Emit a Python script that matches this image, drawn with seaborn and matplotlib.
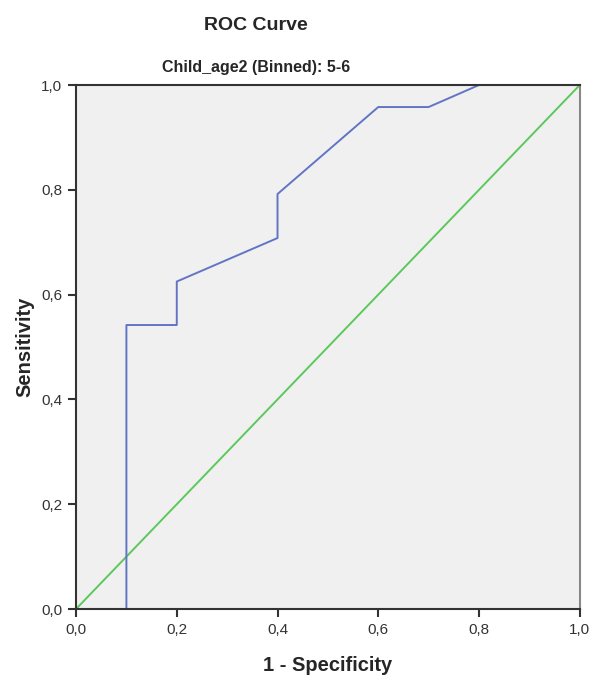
import pandas as pd
import matplotlib
matplotlib.use("Agg")
import matplotlib.pyplot as plt
import seaborn as sns

# ROC points (1 - specificity, sensitivity)
fpr = [0.0, 0.1, 0.1, 0.2, 0.2, 0.4, 0.4, 0.6, 0.7, 0.8, 1.0]
tpr = [0.0, 0.0, 0.542, 0.542, 0.625, 0.708, 0.792, 0.958, 0.958, 1.0, 1.0]
ref_x = [0.0, 1.0]
ref_y = [0.0, 1.0]
ticks = [0.0, 0.2, 0.4, 0.6, 0.8, 1.0]
tick_labels = ["0,0", "0,2", "0,4", "0,6", "0,8", "1,0"]

sns.set_style("white")
plt.rcParams['font.family'] = ['Liberation Sans', 'DejaVu Sans']

fig = plt.figure(figsize=(5.94, 6.77), dpi=100)
ax = fig.add_axes([0.128, 0.1004, 0.848, 0.774])
ax.set_facecolor("#f0f0f0")

roc = pd.DataFrame({"x": fpr, "y": tpr})
diag = pd.DataFrame({"x": ref_x, "y": ref_y})
sns.lineplot(data=diag, x="x", y="y", sort=False, estimator=None,
             color="#5cc85c", linewidth=1.4, ax=ax)
sns.lineplot(data=roc, x="x", y="y", sort=False, estimator=None,
             color="#6275c4", linewidth=1.4, ax=ax)

ax.set_xlim(0, 1)
ax.set_ylim(0, 1)
ax.set_xticks(ticks)
ax.set_xticklabels(tick_labels)
ax.set_yticks(ticks)
ax.set_yticklabels(tick_labels)
ax.tick_params(bottom=True, left=True, direction="out", length=6, width=1.5,
               color="#333333", labelsize=11, labelcolor="#333333", pad=4)

for side in ["left", "bottom", "top"]:
    ax.spines[side].set_color("#333333")
    ax.spines[side].set_linewidth(1.5)
ax.spines["right"].set_color("#888888")
ax.spines["right"].set_linewidth(1.5)

ax.set_xlabel("1 - Specificity", fontsize=14.5, fontweight="bold", labelpad=14)
ax.set_ylabel("Sensitivity", fontsize=14.5, fontweight="bold", labelpad=5)

fig.text(0.431, 0.963, "ROC Curve", ha="center", va="center", fontsize=14,
         fontweight="bold")
fig.text(0.431, 0.9, "Child_age2 (Binned): 5-6", ha="center", va="center",
         fontsize=11.5, fontweight="bold")

fig.savefig("out.png", dpi=100)
